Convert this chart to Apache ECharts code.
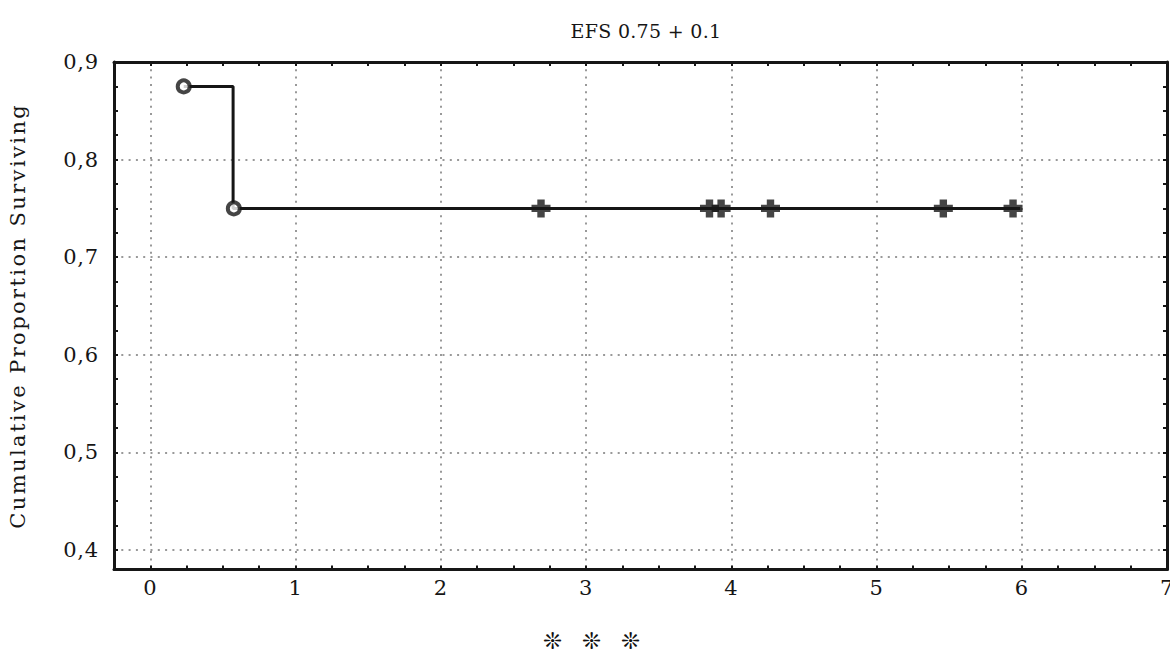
<!DOCTYPE html>
<html><head><meta charset="utf-8">
<script src="https://cdn.jsdelivr.net/npm/echarts@6/dist/echarts.min.js"></script>
<style>
html,body{margin:0;padding:0;background:#fff;}
#chart{width:1170px;height:658px;}
#chart text{letter-spacing:0.8px;}
</style></head><body><div id="chart"></div>
<script>
// ---- data ----
const titleText = 'EFS 0.75 + 0.1';
const yAxisName = 'Cumulative Proportion Surviving';
const footText = ['❊', '❊', '❊'];
const xTickLabels = [0, 1, 2, 3, 4, 5, 6, 7];
const yTickLabels = [0.4, 0.5, 0.6, 0.7, 0.8, 0.9];
const xMinorTicks = [0, 0.25, 0.5, 0.75, 1, 1.25, 1.5, 1.75, 2, 2.25, 2.5, 2.75, 3, 3.25, 3.5, 3.75, 4, 4.25, 4.5, 4.75, 5, 5.25, 5.5, 5.75, 6, 6.25, 6.5, 6.75, 7];
const yMinorTicks = [0.4, 0.425, 0.45, 0.475, 0.5, 0.525, 0.55, 0.575, 0.6, 0.625, 0.65, 0.675, 0.7, 0.725, 0.75, 0.775, 0.8, 0.825, 0.85, 0.875, 0.9];
// survival step curve
const curveTimes = [0.23, 0.57, 5.99];
const curveSurv = [0.875, 0.75, 0.75];
// complete (event) observations
const eventTimes = [0.23, 0.575];
const eventSurv = [0.875, 0.75];
// censored observations
const censorTimes = [2.69, 3.85, 3.93, 4.27, 5.46, 5.94];
const censorSurv = [0.75, 0.75, 0.75, 0.75, 0.75, 0.75];

// ---- chart ----
const ink = '#161616';
const serif = 'DejaVu Serif';
const zip = (a, b) => a.map((v, i) => [v, b[i]]);
const frameLine = { show: true, onZero: false, lineStyle: { color: ink, width: 3 } };
const tickStyle = { color: ink, width: 2 };
const gridStyle = { color: '#999999', width: 2, type: [2, 5.3] };
const X = { type: 'value', min: -0.25, max: 7 };
const Y = { type: 'value', min: 0.38, max: 0.9 };
const fmtY = v => v.toFixed(1).replace('.', ',');

const chart = echarts.init(document.getElementById('chart'), null, { renderer: 'svg' });
chart.setOption({
  animation: false,
  backgroundColor: '#fff',
  title: {
    text: titleText, left: 641, top: 16, textAlign: 'center',
    textStyle: { fontFamily: serif, fontSize: 19, fontWeight: 'normal', color: ink }
  },
  grid: { left: 114, right: 3, top: 62, bottom: 88.5, outerBoundsMode: 'none', containLabel: false },
  xAxis: [
    Object.assign({}, X, {
      position: 'bottom',
      axisLine: frameLine,
      axisTick: { show: true, inside: true, length: 4, lineStyle: tickStyle, customValues: xMinorTicks },
      axisLabel: { customValues: xTickLabels, formatter: v => String(v), color: ink, fontFamily: serif, fontSize: 21, margin: 8, hideOverlap: false },
      splitLine: { show: false }
    }),
    Object.assign({}, X, {
      position: 'bottom',
      axisLine: { show: false },
      axisTick: { show: false, customValues: xTickLabels },
      axisLabel: { show: false },
      splitLine: { show: true, lineStyle: gridStyle }
    }),
    Object.assign({}, X, {
      position: 'top',
      axisLine: frameLine,
      axisTick: { show: true, inside: true, length: 4, lineStyle: tickStyle, customValues: xMinorTicks },
      axisLabel: { show: false },
      splitLine: { show: false }
    })
  ],
  yAxis: [
    Object.assign({}, Y, {
      position: 'left',
      name: yAxisName, nameLocation: 'middle', nameGap: 86,
      nameTextStyle: { fontFamily: serif, fontSize: 21, color: ink },
      axisLine: frameLine,
      axisTick: { show: true, inside: true, length: 4, lineStyle: tickStyle, customValues: yMinorTicks },
      axisLabel: { customValues: yTickLabels, formatter: fmtY, color: ink, fontFamily: serif, fontSize: 21, margin: 15 },
      splitLine: { show: false }
    }),
    Object.assign({}, Y, {
      position: 'left',
      axisLine: { show: false },
      axisTick: { show: false, customValues: yTickLabels },
      axisLabel: { show: false },
      splitLine: { show: true, lineStyle: gridStyle }
    }),
    Object.assign({}, Y, {
      position: 'right',
      axisLine: frameLine,
      axisTick: { show: true, inside: true, length: 4, lineStyle: tickStyle, customValues: yMinorTicks },
      axisLabel: { show: false },
      splitLine: { show: false }
    })
  ],
  series: [
    {
      type: 'line', name: 'survival', step: 'end', data: zip(curveTimes, curveSurv),
      showSymbol: false, symbol: 'none', lineStyle: { color: ink, width: 3 }, z: 3
    },
    {
      type: 'scatter', name: 'complete', data: zip(eventTimes, eventSurv),
      symbol: 'circle', symbolSize: 12,
      itemStyle: { color: '#fff', borderColor: ink, borderWidth: 4 }, z: 5
    },
    {
      type: 'scatter', name: 'censored', data: zip(censorTimes, censorSurv),
      symbol: 'path://M5.5,0H12.5V5H18V12H12.5V17H5.5V12H0V5H5.5Z', symbolSize: [19, 18],
      itemStyle: { color: ink }, z: 4
    }
  ],
  graphic: footText.map((t, i) => ({
    type: 'text', x: 553 + i * 39, y: 641,
    style: { text: t, fontFamily: 'DejaVu Sans', fontSize: 23, fontWeight: 'bold', fill: '#111', align: 'center', verticalAlign: 'middle' }
  }))
});

function tweakSpacing() {
  document.querySelectorAll('#chart text').forEach(t => {
    if (t.textContent === yAxisName) t.style.letterSpacing = '2.4px';
    if (t.textContent === titleText) t.style.letterSpacing = '0.3px';
  });
}
tweakSpacing();
chart.on('finished', tweakSpacing);
setTimeout(tweakSpacing, 30);
</script></body></html>
